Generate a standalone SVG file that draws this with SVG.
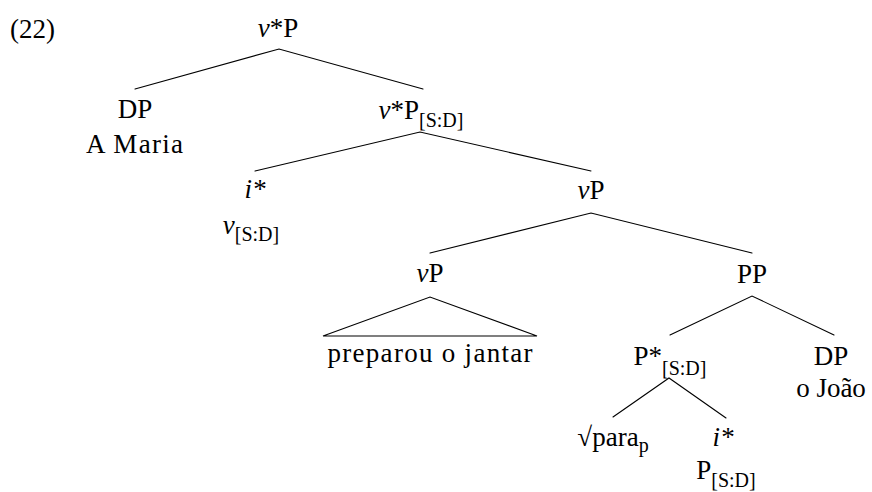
<svg xmlns="http://www.w3.org/2000/svg" width="872" height="492" viewBox="0 0 872 492" font-family="'Liberation Serif','Times New Roman',serif">
<style>
text{font-family:'Liberation Serif','Times New Roman',serif;font-size:27px;fill:#000}
.m{text-anchor:middle}
.it{font-style:italic}
.sub{font-size:20px}
.e{stroke:#000;stroke-width:1.1;fill:none;stroke-linecap:round}
</style>
<rect width="872" height="492" fill="#fff"/>
<text id="label" x="10" y="38">(22)</text>
<g id="n-root"><text class="m" x="278" y="37"><tspan class="it">v</tspan>*P</text></g>
<g id="n-dp1"><text class="m" x="135" y="118">DP</text><text class="m" x="134.5" y="153" textLength="97">A Maria</text></g>
<g id="n-vsp"><text class="m" x="421" y="119"><tspan class="it">v</tspan>*P<tspan class="sub" dy="8">[S:D]</tspan></text></g>
<g id="n-i1"><text class="m it" x="255" y="198">i*</text><text class="m" x="251" y="234"><tspan class="it">v</tspan><tspan class="sub" dy="7">[S:D]</tspan></text></g>
<g id="n-vp1"><text class="m" x="591" y="199"><tspan class="it">v</tspan>P</text></g>
<g id="n-vp2"><text class="m" x="430" y="282"><tspan class="it">v</tspan>P</text><text class="m" x="430" y="362" textLength="205">preparou o jantar</text></g>
<g id="n-pp"><text class="m" x="752" y="283">PP</text></g>
<g id="n-pstar"><text class="m" x="670" y="365">P*<tspan class="sub" dy="10">[S:D]</tspan></text></g>
<g id="n-dp2"><text class="m" x="831" y="365">DP</text><text class="m" x="831" y="397">o João</text></g>
<g id="n-para"><text class="m" x="613" y="446">√para<tspan class="sub" dy="6">p</tspan></text></g>
<g id="n-i2"><text class="m it" x="723" y="446">i*</text><text class="m" x="726" y="479">P<tspan class="sub" dy="8">[S:D]</tspan></text></g>
<g id="edges">
<path class="e" d="M135 89L279 49L423 89"/>
<path class="e" d="M255 171L420 132L591 171"/>
<path class="e" d="M430 253L591 213L752 253"/>
<path class="e" d="M323 336L430 297L537 336Z"/>
<path class="e" d="M670 335L752 296L834 335"/>
<path class="e" d="M613 417L669 378L726 418"/>
</g>
</svg>
